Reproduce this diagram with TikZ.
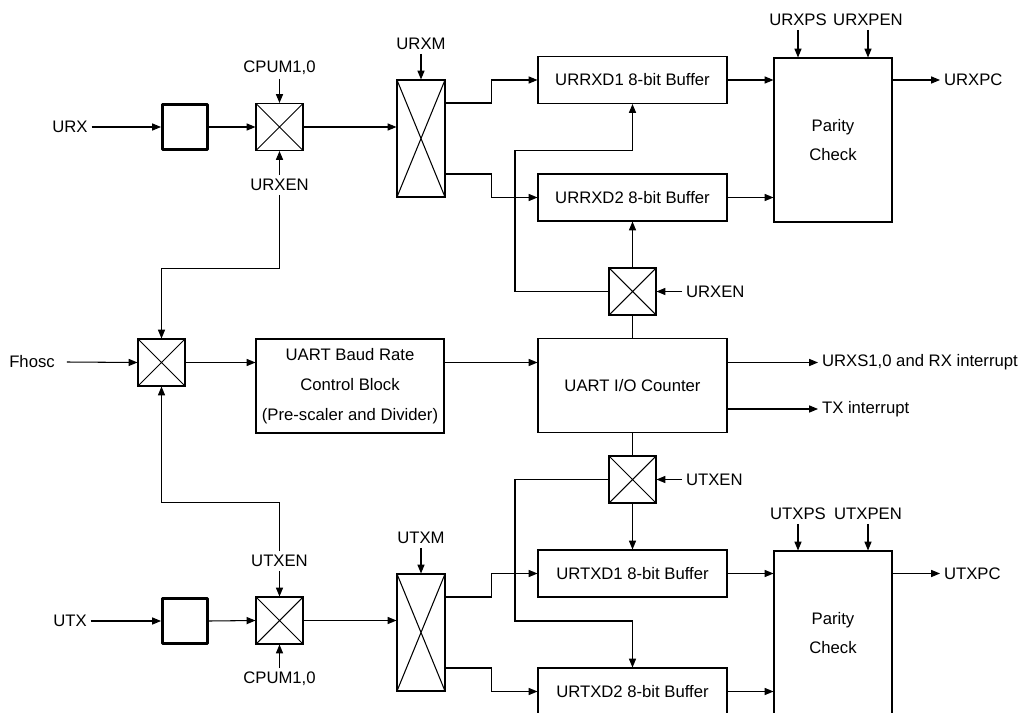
\documentclass[tikz,border=0pt]{standalone}
\usepackage{fontspec}
\setmainfont{Liberation Sans}
\usetikzlibrary{arrows.meta,calc}

\begin{document}
\begin{tikzpicture}[x=0.02cm,y=-0.02cm,line width=0.6pt,
        font=\fontsize{9.5}{17}\selectfont,
        >={Triangle[length=5pt,width=4pt]},
        sig/.style={inner sep=2pt},
        blk/.style={draw,align=center,minimum width=3.78cm,minimum height=0.94cm,inner sep=0pt},
        parity/.style={draw,align=center,minimum width=2.36cm,minimum height=3.28cm},
        latch/.style={draw,line width=1.7pt,line join=round,minimum size=0.9cm},
        mux/.style={draw,minimum width=0.94cm,minimum height=0.94cm,inner sep=0pt,
            path picture={\draw (path picture bounding box.north west) -- (path picture bounding box.south east)
                (path picture bounding box.north east) -- (path picture bounding box.south west);}},
        selmux/.style={mux,minimum width=0.96cm,minimum height=2.34cm}]
                \useasboundingbox (0,0) rectangle (1021,713);
                \clip (0,0) rectangle (1021,713);
                % receive side
                \node[sig] (urx) at (70,127) {URX};
                \node[latch] (rlatch) at (185,127) {};
                \node[mux] (rmux) at (279.5,127) {};
                \node[sig] (rcpum) at (279.5,68) {CPUM1,0};
                \node[sig] (rxen) at (279.5,185) {URXEN};
                \node[selmux] (rsel) at (421,138.5) {};
                \node[sig] (urxm) at (421,44) {URXM};
                \node[blk] (rbufa) at (632.5,80) {URRXD1 8-bit Buffer};
                \node[blk] (rbufb) at (632.5,197.5) {URRXD2 8-bit Buffer};
                \node[parity] (rpar) at (833,140) {Parity\\Check};
                \node[sig] (urxps) at (798,20) {URXPS};
                \node[sig] (urxpen) at (868,20) {URXPEN};
                \node[sig,anchor=west] (urxpc) at (940,80) {URXPC};
                \node[mux] (rgate) at (632.5,291.5) {};
                \node[sig,anchor=west] (rgaten) at (682,291.5) {URXEN};
                \coordinate (rjog) at (515,150.5);
                % clock and counter
                \node[sig] (fhosc) at (32,362) {Fhosc};
                \node[mux] (fmux) at (161.5,362.5) {};
                \node[blk,minimum width=3.76cm,minimum height=1.88cm] (baud) at (350,386) {UART Baud Rate\\Control Block\\(Pre-scaler and Divider)};
                \node[blk,minimum height=1.88cm] (cnt) at (632.5,385.5) {UART I/O Counter};
                \node[sig,anchor=west] (rxint) at (818,362.5) {URXS1,0 and RX interrupt};
                \node[sig,anchor=west] (txint) at (818,409) {TX interrupt};
                % transmit side
                \node[sig] (utx) at (70,621) {UTX};
                \node[latch] (tlatch) at (185,621) {};
                \node[mux] (tmux) at (279.5,620.5) {};
                \node[sig] (txen) at (279.5,561) {UTXEN};
                \node[sig] (tcpum) at (279.5,679) {CPUM1,0};
                \node[selmux] (tsel) at (421,632.5) {};
                \node[sig] (utxm) at (421,538) {UTXM};
                \node[blk] (tbufa) at (632.5,573.5) {URTXD1 8-bit Buffer};
                \node[blk] (tbufb) at (632.5,691.5) {URTXD2 8-bit Buffer};
                \node[parity] (tpar) at (833,633) {Parity\\Check};
                \node[sig] (utxps) at (798,514) {UTXPS};
                \node[sig] (utxpen) at (868,514) {UTXPEN};
                \node[sig,anchor=west] (utxpc) at (940,573.5) {UTXPC};
                \node[mux] (tgate) at (632.5,479.5) {};
                \node[sig,anchor=west] (tgaten) at (682,479.5) {UTXEN};
                \coordinate (tjog) at (515,621);
                % receive connectors
                \draw[->] (urx.east) -- (rlatch.west);
                \draw[->] (rlatch.east) -- (rmux.west);
                \draw[->] (rmux.east) -- (rmux.east -| rsel.west);
                \draw[->] (rcpum.south) -- (rmux.north);
                \draw[->] (rxen.north) -- (rmux.south);
                \draw[->] (rxen.south) -- ++(0,73.5) -| (fmux.north);
                \draw[->] (urxm.south) -- (rsel.north);
                \draw[->] ($(rsel.east)+(0,-35.5)$) -- ++(46,0) |- (rbufa.west);
                \draw[->] ($(rsel.east)+(0,35.5)$) -- ++(46,0) |- (rbufb.west);
                \draw[->] (rbufa.east) -- (rbufa.east -| rpar.west);
                \draw[->] (rbufb.east) -- (rbufb.east -| rpar.west);
                \draw[->] (urxps.south) -- (urxps.south |- rpar.north);
                \draw[->] (urxpen.south) -- (urxpen.south |- rpar.north);
                \draw[->] (rbufa.east -| rpar.east) -- (urxpc.west);
                \draw[->] (rgaten.west) -- (rgate.east);
                \draw[->] (rgate.north) -- (rbufb.south);
                \draw[->] (rgate.west) -| (rjog) -| (rbufa.south);
                \draw (cnt.north) -- (rgate.south);
                % clock connectors
                \draw[->] ($(fhosc.east)+(8,0)$) -- (fmux.west);
                \draw[->] (fmux.east) -- (fmux.east -| baud.west);
                \draw[->] (fmux.east -| baud.east) -- (fmux.east -| cnt.west);
                \draw[->] (rxint.west -| cnt.east) -- (rxint.west);
                \draw[->] (txint.west -| cnt.east) -- (txint.west);
                % transmit connectors
                \draw[->] (utx.east) -- (tlatch.west);
                \draw[->] (tlatch.east) -- (tmux.west);
                \draw[->] (tmux.east) -- (tmux.east -| tsel.west);
                \draw[->] (txen.south) -- (tmux.north);
                \draw[->] (tcpum.north) -- (tmux.south);
                \draw[->] (txen.north) -- ++(0,-48.5) -| (fmux.south);
                \draw[->] (utxm.south) -- (tsel.north);
                \draw[->] ($(tsel.east)+(0,-35.5)$) -- ++(46,0) |- (tbufa.west);
                \draw[->] ($(tsel.east)+(0,35.5)$) -- ++(46,0) |- (tbufb.west);
                \draw[->] (tbufa.east) -- (tbufa.east -| tpar.west);
                \draw[->] (tbufb.east) -- (tbufb.east -| tpar.west);
                \draw[->] (utxps.south) -- (utxps.south |- tpar.north);
                \draw[->] (utxpen.south) -- (utxpen.south |- tpar.north);
                \draw[->] (tbufa.east -| tpar.east) -- (utxpc.west);
                \draw[->] (tgaten.west) -- (tgate.east);
                \draw (cnt.south) -- (tgate.north);
                \draw[->] (tgate.south) -- (tbufa.north);
                \draw[->] (tgate.west) -| (tjog) -| (tbufb.north);
\end{tikzpicture}
\end{document}
